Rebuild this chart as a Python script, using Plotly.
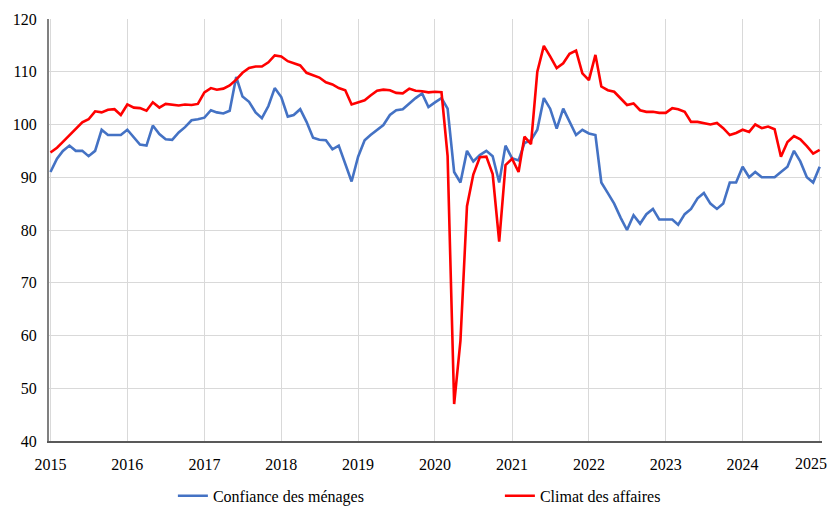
import pandas as pd
import plotly.graph_objects as go

months = pd.date_range("2015-01-01", "2025-01-01", freq="MS")

confiance_menages = [
    91, 93.5, 95, 96, 95, 95, 94, 95, 99, 98, 98, 98,
    99, 97.5, 96.2, 96, 99.8, 98.2, 97.2, 97.1, 98.5, 99.5, 100.8, 101,
    101.3, 102.7, 102.3, 102.1, 102.6, 109, 105.3, 104.3, 102.3, 101.2, 103.5, 106.9,
    105.2, 101.5, 101.8, 102.9, 100.5, 97.5, 97.1, 97, 95.3, 96, 92.6, 89.2,
    93.9, 97, 98, 99, 99.9, 101.8, 102.7, 102.9, 104, 105, 105.9, 103.3,
    104.2, 105, 103, 91, 89, 95, 93, 94.2, 95, 94, 89, 96,
    93.6, 93.2, 96.5, 97, 99, 105, 103, 99.2, 103, 100.4, 98, 99,
    98.3, 98, 89, 87, 85, 82.3, 80, 82.8, 81.2, 83, 84, 82,
    82, 82, 81, 83, 84, 86, 87, 85, 84, 85, 89, 89,
    92, 90, 91, 90, 90, 90, 91, 92, 95, 93, 90, 89,
    92,
]

climat_affaires = [
    94.7, 95.6, 96.7, 98, 99.2, 100.4, 101, 102.5, 102.3, 102.8, 102.9, 101.8,
    103.8, 103.2, 103.1, 102.6, 104.2, 103.2, 103.9, 103.7, 103.6, 103.8, 103.7, 103.9,
    106.1, 106.9, 106.6, 106.8, 107.4, 108.5, 109.8, 110.7, 111, 111, 111.8, 113.1,
    112.9, 112, 111.6, 111.2, 109.8, 109.3, 108.9, 108, 107.6, 106.9, 106.5, 103.8,
    104.2, 104.6, 105.5, 106.4, 106.6, 106.5, 106, 105.9, 106.8, 106.4, 106.3, 106.1,
    106.2, 106.1, 94, 47, 59, 84.5, 90.5, 93.8, 93.9, 90.6, 77.8, 92.3,
    93.5, 91, 97.7, 96.3, 110, 114.9, 112.9, 110.7, 111.6, 113.4, 114, 109.7,
    108.4, 113.2, 107.2, 106.5, 106.2, 105, 103.7, 104, 102.7, 102.4, 102.4, 102.2,
    102.2, 103.1, 102.9, 102.4, 100.5, 100.5, 100.2, 100, 100.3, 99.3, 98, 98.4,
    99, 98.6, 100, 99.3, 99.6, 99.1, 93.9, 96.7, 97.8, 97.2, 95.9, 94.5,
    95.2,
]

year_ticks = [f"{y}-01-01" for y in range(2015, 2026)]
year_labels = [str(y) for y in range(2015, 2026)]
y_ticks = [40, 50, 60, 70, 80, 90, 100, 110, 120]

FONT = "Liberation Serif, Times New Roman, serif"

fig = go.Figure()
fig.add_trace(go.Scatter(
    x=months, y=confiance_menages, mode="lines", name="Confiance des ménages",
    line=dict(color="#4472C4", width=2.6),
))
fig.add_trace(go.Scatter(
    x=months, y=climat_affaires, mode="lines", name="Climat des affaires",
    line=dict(color="#FF0000", width=2.6),
))

fig.update_layout(
    width=837, height=506,
    margin=dict(l=41, r=23, t=11, b=73, autoexpand=False),
    paper_bgcolor="white", plot_bgcolor="white",
    font=dict(family=FONT, size=16, color="#000000"),
    showlegend=True,
    legend=dict(
        orientation="h", xref="container", x=0.197, xanchor="left",
        yref="container", y=0.036, yanchor="middle",
        font=dict(family=FONT, size=16, color="#000000"),
        entrywidth=282, entrywidthmode="pixels",
        bgcolor="rgba(0,0,0,0)",
    ),
)
# last year label drawn as text anchored at its right so it stays inside the view
fig.add_annotation(
    x=year_ticks[-1], xref="x", y=0, yref="paper",
    text=year_labels[-1], showarrow=False,
    xanchor="right", xshift=9, yanchor="middle", yshift=-22,
    font=dict(family=FONT, size=16, color="#000000"),
)
fig.update_xaxes(
    type="date",
    range=["2014-12-25", "2025-01-12"],
    tickvals=year_ticks, ticktext=year_labels[:-1] + [""],
    showgrid=True, gridcolor="#D9D9D9", gridwidth=1,
    showline=True, linecolor="#595959", linewidth=2,
    ticks="", ticklabelstandoff=8,
    tickfont=dict(family=FONT, size=16),
    zeroline=False,
)
fig.update_yaxes(
    range=[40, 120],
    tickvals=y_ticks,
    showgrid=True, gridcolor="#D9D9D9", gridwidth=1,
    showline=True, linecolor="#808080", linewidth=2,
    ticks="", ticklabelstandoff=7,
    tickfont=dict(family=FONT, size=16),
    zeroline=False,
)

fig.write_html("out.html")
